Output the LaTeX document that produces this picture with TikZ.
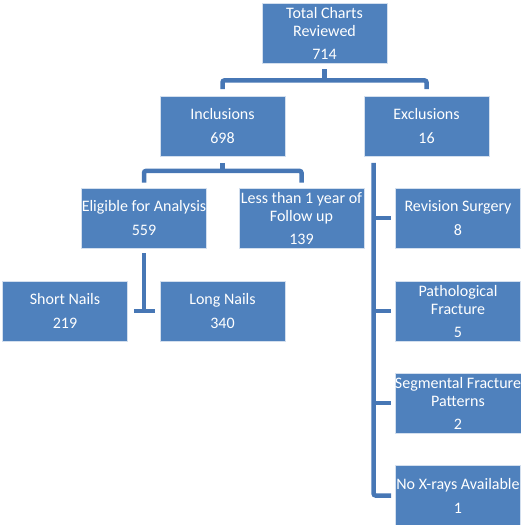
\documentclass[tikz,border=0pt]{standalone}
\usepackage{fontspec}
\setmainfont{Carlito}
\usepackage{tikz}
\usepackage{xcolor}
\usetikzlibrary{positioning}
\definecolor{boxblue}{RGB}{79,129,189}
\definecolor{connblue}{RGB}{71,119,181}

\begin{document}
\begin{tikzpicture}[
    x=1pt, y=1pt,
    font=\fontsize{16}{18}\selectfont,
    box/.style={rectangle, draw=white!75!boxblue, line width=0.8pt, fill=boxblue,
                text=white, align=center, minimum width=125pt, minimum height=60pt,
                inner sep=0pt},
    conn/.style={draw=connblue, line width=4.5pt, rounded corners=2pt},
  ]
  \useasboundingbox (0,0) rectangle (520,-525);
  % top levels
    \node[box] (total) at (324.5,-33)  {Total Charts\\Reviewed\\[5pt]714};
    \node[box] (incl)  at (222.5,-126.5) {Inclusions\\[6pt]698};
    \node[box] (excl)  at (426.5,-126.5) {Exclusions\\[6pt]16};
  % inclusions
    \node[box] (elig)  at (144,-218)   {Eligible for Analysis\\[6pt]559};
    \node[box] (less)  at (301.5,-218) {Less than 1 year of\\Follow up\\[5pt]139};
    \node[box] (short) at (65,-311)    {Short Nails\\[6pt]219};
    \node[box] (long)  at (222.5,-311) {Long Nails\\[6pt]340};
  % exclusions
    \node[box] (rev)   at (458,-218)   {Revision Surgery\\[6pt]8};
    \node[box] (path)  at (458,-311)   {Pathological\\Fracture\\[5pt]5};
    \node[box] (seg)   at (458,-403)   {Segmental Fracture\\Patterns\\[5pt]2};
    \node[box] (nox)   at (458,-495.5) {No X-rays Available\\[6pt]1};
    % connectors
    \draw[conn] ([yshift=-6pt]total.south) -- ++(0,-11) coordinate (tb);
    \draw[conn] ([yshift=7pt]incl.north) |- (tb) -| ([yshift=7pt]excl.north);
    \draw[conn] ([yshift=-6pt]incl.south) -- ++(0,-8) coordinate (ib);
    \draw[conn] ([yshift=5pt]elig.north) |- (ib) -| ([yshift=5pt]less.north);
    \draw[conn] ([yshift=-5pt]elig.south) -- (elig.south |- short.east);
    \draw[conn] ([xshift=6pt]short.east) -- ([xshift=-5pt]long.west);
    \draw[conn] ([xshift=10pt,yshift=-6pt]excl.south west) coordinate (ev)
        |- ([xshift=-4pt]nox.west);
    \draw[conn] ([xshift=-4pt]rev.west) -- (ev |- rev.west);
    \draw[conn] ([xshift=-4pt]path.west) -- (ev |- path.west);
    \draw[conn] ([xshift=-4pt]seg.west) -- (ev |- seg.west);
  \end{tikzpicture}
\end{document}
